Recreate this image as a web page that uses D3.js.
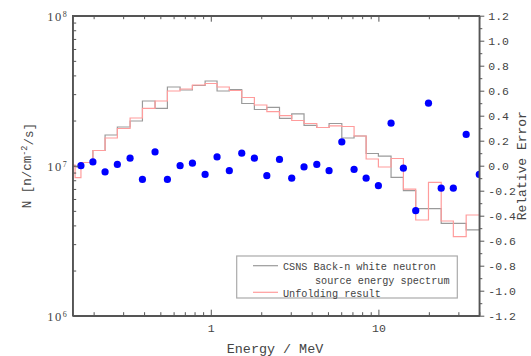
<!DOCTYPE html>
<html>
<head>
<meta charset="utf-8">
<script src="https://cdn.jsdelivr.net/npm/d3@7"></script>
<style>
  html, body { margin: 0; padding: 0; background: #fff; }
  svg { display: block; }
  text { font-family: "Liberation Mono", "DejaVu Sans Mono", monospace; fill: #444; }
</style>
</head>
<body>
<div id="chart"></div>
<script>
// bin edges (MeV), log binning
const edges = [0.14, 0.155, 0.168, 0.198, 0.234, 0.277, 0.330, 0.391, 0.465, 0.551, 0.656,
  0.777, 0.925, 1.09, 1.29, 1.53, 1.82, 2.16, 2.57, 3.04, 3.60, 4.29, 5.08, 6.05, 7.16,
  8.45, 10.0, 11.9, 14.1, 16.7, 19.9, 23.7, 28.0, 33.4, 40.0];

// CSNS Back-n spectrum (grey) and unfolding result (pink), n/cm^2/s per bin
const spectrum = [9.9e6, 9.80e6, 1.05e7, 1.263e7, 1.602e7, 1.811e7, 1.986e7, 2.70e7, 2.413e7,
  3.346e7, 3.196e7, 3.424e7, 3.669e7, 3.148e7, 3.221e7, 2.598e7, 2.370e7, 2.451e7, 2.070e7,
  2.218e7, 1.859e7, 1.797e7, 1.911e7, 1.530e7, 1.578e7, 1.206e7, 1.160e7, 8.37e6, 6.83e6,
  5.18e6, 5.18e6, 4.13e6, 4.13e6, 3.73e6];
const unfolded = [1.01e7, 8.34e6, 1.05e7, 1.263e7, 1.530e7, 1.770e7, 2.080e7, 2.413e7, 2.70e7,
  3.148e7, 3.246e7, 3.451e7, 3.532e7, 3.346e7, 3.171e7, 2.849e7, 2.539e7, 2.297e7, 2.154e7,
  2.001e7, 1.911e7, 1.797e7, 1.845e7, 1.825e7, 1.578e7, 1.108e7, 9.80e6, 1.117e7, 6.99e6,
  4.345e6, 7.75e6, 4.28e6, 3.363e6, 4.69e6];

// relative error, plotted at the upper edge of each bin
const relErr = [0.00, 0.03, -0.05, 0.01, 0.06, -0.11, 0.11, -0.11, 0.00, 0.02, -0.07, 0.07,
  -0.04, 0.10, 0.06, -0.08, 0.05, -0.10, -0.01, 0.01, -0.04, 0.19, -0.03, -0.10, -0.16,
  0.34, -0.02, -0.36, 0.50, -0.18, -0.18, 0.25, -0.07];
const errEnergy = edges.slice(2);

const xMajor = [1, 10];
const xMinor = [0.2, 0.3, 0.4, 0.5, 0.6, 0.7, 0.8, 0.9, 2, 3, 4, 5, 6, 7, 8, 9, 20, 30, 40];
const yMajor = [1e6, 1e7, 1e8];
const yExp = ["6", "7", "8"];
const yMinor = [2e6, 3e6, 4e6, 5e6, 6e6, 7e6, 8e6, 9e6, 2e7, 3e7, 4e7, 5e7, 6e7, 7e7, 8e7, 9e7];
const rMajor = [-1.2, -1.0, -0.8, -0.6, -0.4, -0.2, 0.0, 0.2, 0.4, 0.6, 0.8, 1.0, 1.2];
const rMinor = [-1.1, -0.9, -0.7, -0.5, -0.3, -0.1, 0.1, 0.3, 0.5, 0.7, 0.9, 1.1];

const W = 531, H = 356;
const L = 72.7, R = 479.3, T = 15.7, B = 315.7;
const AX = "#555";

const svg = d3.select("#chart").append("svg").attr("width", W).attr("height", H);

const x = d3.scaleLog().domain([0.15, 40]).range([L, R]);
const y = d3.scaleLog().domain([1e6, 1e8]).range([B, T]);
const yr = d3.scaleLinear().domain([-1.2, 1.2]).range([B, T]);

svg.append("defs").append("clipPath").attr("id", "plot")
  .append("rect").attr("x", L).attr("y", T).attr("width", R - L).attr("height", B - T);

const plot = svg.append("g").attr("clip-path", "url(#plot)");

// step histograms
function stepPts(vals) {
  const pts = vals.map((v, i) => [edges[i], v]);
  pts.push([edges[vals.length], vals[vals.length - 1]]);
  return pts;
}
const step = d3.line().x(d => x(d[0])).y(d => y(d[1])).curve(d3.curveStepAfter);

plot.append("path").attr("d", step(stepPts(spectrum)))
  .attr("fill", "none").attr("stroke", "#9a9a9a").attr("stroke-width", 1.2);
plot.append("path").attr("d", step(stepPts(unfolded)))
  .attr("fill", "none").attr("stroke", "#ff9c9c").attr("stroke-width", 1.2);

// relative error dots
plot.selectAll("circle.err").data(relErr).join("circle")
  .attr("class", "err")
  .attr("cx", (d, i) => x(errEnergy[i]))
  .attr("cy", d => yr(d))
  .attr("r", 3.6)
  .attr("fill", "#0000ff");

// --- axes -------------------------------------------------------------------
function styleAxis(g) {
  g.select(".domain").attr("stroke", AX).attr("stroke-width", 1.4);
  g.selectAll(".tick line").attr("stroke", AX).attr("stroke-width", 1);
  g.selectAll(".tick text").attr("fill", "#444");
}

// bottom (ticks inward)
svg.append("g").attr("transform", `translate(0,${B})`)
  .call(d3.axisBottom(x).tickValues(xMajor).tickFormat(d3.format("d"))
    .tickSizeInner(-6).tickSizeOuter(0).tickPadding(8))
  .call(styleAxis)
  .call(g => g.selectAll(".tick text").attr("font-size", 11.5)
    .style("font-family", '"Liberation Mono", monospace'));
svg.append("g").attr("transform", `translate(0,${B})`)
  .call(d3.axisBottom(x).tickValues(xMinor).tickFormat("").tickSizeInner(-3.5).tickSizeOuter(0))
  .call(styleAxis).call(g => g.select(".domain").remove());

// top (ticks inward, no labels)
svg.append("g").attr("transform", `translate(0,${T})`)
  .call(d3.axisTop(x).tickValues(xMajor).tickFormat("").tickSizeInner(-6).tickSizeOuter(0))
  .call(styleAxis);
svg.append("g").attr("transform", `translate(0,${T})`)
  .call(d3.axisTop(x).tickValues(xMinor).tickFormat("").tickSizeInner(-3.5).tickSizeOuter(0))
  .call(styleAxis).call(g => g.select(".domain").remove());

// left (log, ticks inward)
const left = svg.append("g").attr("transform", `translate(${L},0)`)
  .call(d3.axisLeft(y).tickValues(yMajor).tickFormat("").tickSizeInner(-6).tickSizeOuter(0))
  .call(styleAxis);
left.selectAll(".tick").append("text")
  .attr("x", -6).attr("dy", "0.35em").attr("text-anchor", "end")
  .attr("font-size", 12.5).style("font-family", '"Liberation Serif", serif')
  .attr("fill", "#444")
  .each(function (d, i) {
    const t = d3.select(this);
    t.append("tspan").attr("letter-spacing", 1.5).text("10");
    t.append("tspan").attr("dy", "-0.5em").attr("font-size", 8).text(yExp[i]);
  });
svg.append("g").attr("transform", `translate(${L},0)`)
  .call(d3.axisLeft(y).tickValues(yMinor).tickFormat("").tickSizeInner(-3.5).tickSizeOuter(0))
  .call(styleAxis).call(g => g.select(".domain").remove());

// right (relative error, ticks outward)
svg.append("g").attr("transform", `translate(${R},0)`)
  .call(d3.axisRight(yr).tickValues(rMajor).tickFormat(d3.format(".1f"))
    .tickSizeInner(5).tickSizeOuter(0).tickPadding(4))
  .call(styleAxis)
  .call(g => g.selectAll(".tick text").attr("font-size", 11.5)
    .text(d => d3.format(".1f")(d).replace("−", "-")));
svg.append("g").attr("transform", `translate(${R},0)`)
  .call(d3.axisRight(yr).tickValues(rMinor).tickFormat("").tickSizeInner(3).tickSizeOuter(0))
  .call(styleAxis).call(g => g.select(".domain").remove());

// --- axis titles ------------------------------------------------------------
const yt = svg.append("text")
  .attr("transform", `translate(31,${(T + B) / 2}) rotate(-90)`)
  .attr("text-anchor", "middle").attr("font-size", 12.5).attr("fill", "#555");
yt.append("tspan").text("N [n/cm");
yt.append("tspan").attr("dy", "-0.45em").attr("font-size", 8.5).text("-2");
yt.append("tspan").attr("dy", "0.45em").text("/s]");

svg.append("text")
  .attr("transform", `translate(526,${(T + B) / 2}) rotate(-90)`)
  .attr("text-anchor", "middle").attr("font-size", 13).attr("fill", "#555")
  .text("Relative Error");

svg.append("text").attr("x", 275).attr("y", 353)
  .attr("text-anchor", "middle").attr("font-size", 13.4).attr("fill", "#555")
  .text("Energy / MeV");

// --- legend -----------------------------------------------------------------
const lg = svg.append("g");
lg.append("rect").attr("x", 236.7).attr("y", 256).attr("width", 220.6).attr("height", 42)
  .attr("fill", "#fff").attr("stroke", "#aaa").attr("stroke-width", 1.2);
lg.append("line").attr("x1", 253).attr("x2", 278).attr("y1", 265.7).attr("y2", 265.7)
  .attr("stroke", "#9a9a9a").attr("stroke-width", 1.2);
lg.append("line").attr("x1", 253).attr("x2", 278).attr("y1", 292.3).attr("y2", 292.3)
  .attr("stroke", "#ff9c9c").attr("stroke-width", 1.2);
lg.append("text").attr("x", 283).attr("y", 270).attr("font-size", 10.2).attr("fill", "#666")
  .text("CSNS Back-n white neutron");
lg.append("text").attr("x", 315).attr("y", 283.5).attr("font-size", 10.2).attr("fill", "#666")
  .text("source energy spectrum");
lg.append("text").attr("x", 283).attr("y", 296.5).attr("font-size", 10.2).attr("fill", "#666")
  .text("Unfolding result");

// frame on top
svg.append("rect").attr("x", L).attr("y", T).attr("width", R - L).attr("height", B - T)
  .attr("fill", "none").attr("stroke", AX).attr("stroke-width", 1.4);
</script>
</body>
</html>
